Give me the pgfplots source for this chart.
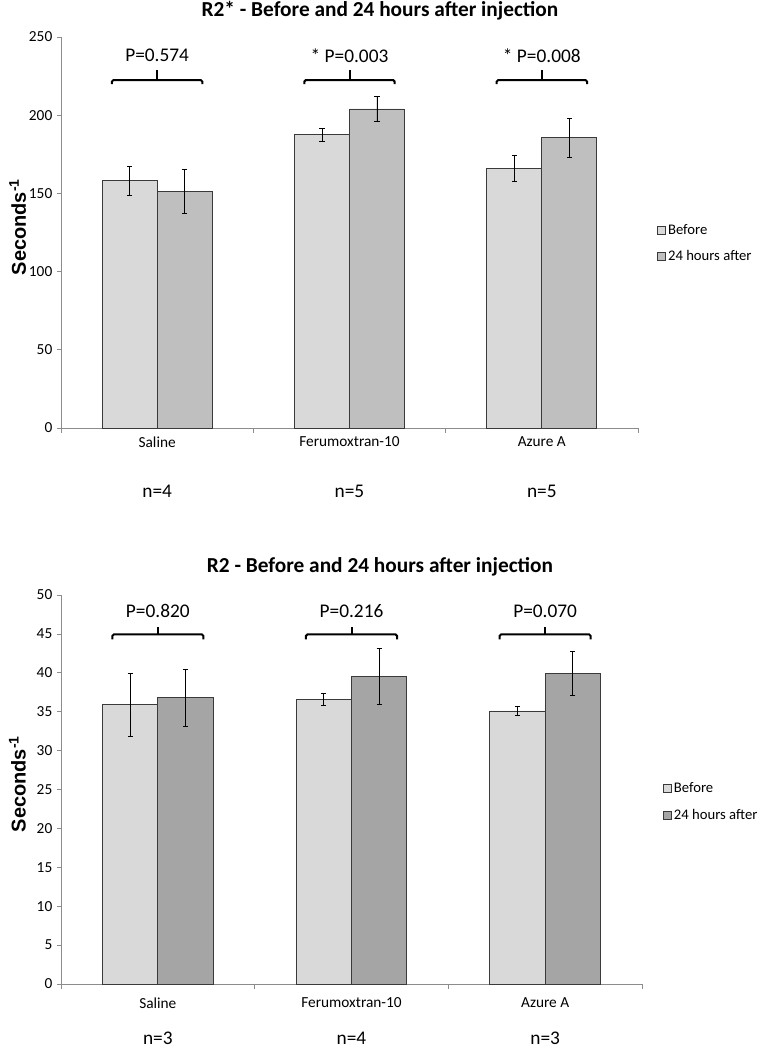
\documentclass[border=0pt]{standalone}
\usepackage{fontspec}
\setmainfont{Carlito}
\newfontfamily\arialfont{Liberation Sans}
\usepackage{pgfplots}
\pgfplotsset{compat=1.18}
\definecolor{cbefore}{HTML}{D9D9D9}
\definecolor{cafterA}{HTML}{BFBFBF}
\definecolor{cafterB}{HTML}{A5A5A5}
\definecolor{axgray}{HTML}{8C8C8C}
\definecolor{edge}{HTML}{3A3A3A}
\tikzset{
  br/.style={line width=1.5pt, rounded corners=1.2pt},
  plab/.style={font=\fontsize{14.5}{17}\selectfont},
}
\pgfplotsset{
  exstyle/.style={
    scale only axis,
    clip=false,
    axis x line*=bottom, axis y line*=left,
    axis line style={draw=axgray,-},
    xmin=-0.5, xmax=2.5,
    xtick={0,1,2},
    xticklabels={Saline,Ferumoxtran-10,Azure A},
    minor xtick={-0.5,0.5,1.5,2.5},
    major x tick style={draw=none},
    minor tick length=3.75pt,
    major tick length=3pt,
    tick style={draw=axgray, line width=0.5pt},
    tick align=outside,
    ticklabel style={font=\fontsize{11.5}{13}\selectfont},
    /pgf/number format/assume math mode=true,
    ybar, bar width=0.2857,
    ylabel={\fontsize{15}{18}\selectfont\arialfont\bfseries Seconds\textsuperscript{-1}},
    ylabel style={at={(axis description cs:-0.075,0.514)}, anchor=center},
    legend cell align=left,
    legend image code/.code={\draw[#1, draw=edge, line width=0.5pt] (0pt,-3pt) rectangle (6pt,3pt);},
    legend style={draw=none, fill=none, font=\fontsize{11}{13}\selectfont, row sep=7pt, inner sep=0pt},
    error bars/error bar style={black, line width=0.6pt},
    error bars/error mark options={black, line width=0.6pt, mark size=1.9pt, rotate=90},
  },
}
\begin{document}
\begin{tikzpicture}
\path[use as bounding box] (0,0) rectangle (570.75pt,787.5pt);
% titles
\node[font=\fontsize{16}{19}\selectfont\bfseries] at (285pt,779.5pt) {R2* - Before and 24 hours after injection};
\node[font=\fontsize{16}{19}\selectfont\bfseries] at (285pt,362.25pt) {R2 - Before and 24 hours after injection};
% ---------- top axis ----------
\begin{axis}[exstyle,
  at={(45.75pt,466.5pt)}, anchor=south west,
  width=432.75pt, height=293.25pt,
  ymin=0, ymax=250, ytick={0,50,100,150,200,250},
  legend style={at={(axis description cs:1.032,0.472)}, anchor=west},
]
\addplot[fill=cbefore, draw=edge, line width=0.6pt, bar shift=-0.14285,
  error bars/.cd, y dir=both, y explicit]
  coordinates {(0,158) +- (0,9.5) (1,187.5) +- (0,4.2) (2,166) +- (0,8.5)};
\addlegendentry{Before}
\addplot[fill=cafterA, draw=edge, line width=0.6pt, bar shift=0.14285,
  error bars/.cd, y dir=both, y explicit]
  coordinates {(0,151.5) +- (0,14) (1,204) +- (0,8.2) (2,185.5) +- (0,12.7)};
\addlegendentry{24 hours after}
% brackets
\draw[br] (axis cs:-0.235,219.8) -- (axis cs:-0.235,222.5) -- (axis cs:0.235,222.5) -- (axis cs:0.235,219.8);
\draw[line width=1.5pt] (axis cs:0,222.5) -- (axis cs:0,229);
\draw[br] (axis cs:0.765,219.8) -- (axis cs:0.765,222.5) -- (axis cs:1.235,222.5) -- (axis cs:1.235,219.8);
\draw[line width=1.5pt] (axis cs:1,222.5) -- (axis cs:1,229);
\draw[br] (axis cs:1.765,219.8) -- (axis cs:1.765,222.5) -- (axis cs:2.235,222.5) -- (axis cs:2.235,219.8);
\draw[line width=1.5pt] (axis cs:2,222.5) -- (axis cs:2,229);
\node[plab] at (axis cs:0,238) {P=0.574};
\node[plab] at (axis cs:1,238) {* P=0.003};
\node[plab] at (axis cs:2,238) {* P=0.008};
\node[plab] at (axis cs:0,0) [yshift=-47.25pt] {n=4};
\node[plab] at (axis cs:1,0) [yshift=-47.25pt] {n=5};
\node[plab] at (axis cs:2,0) [yshift=-47.25pt] {n=5};
\end{axis}
% ---------- bottom axis ----------
\begin{axis}[exstyle,
  at={(45.75pt,49.5pt)}, anchor=south west,
  width=435.75pt, height=291.75pt,
  ymin=0, ymax=50, ytick={0,5,...,50},
  xticklabel style={yshift=-4pt},
  legend style={at={(axis description cs:1.035,0.468)}, anchor=west},
]
\addplot[fill=cbefore, draw=edge, line width=0.6pt, bar shift=-0.14285,
  error bars/.cd, y dir=both, y explicit]
  coordinates {(0,35.9) +- (0,4.05) (1,36.6) +- (0,0.75) (2,35.1) +- (0,0.6)};
\addlegendentry{Before}
\addplot[fill=cafterB, draw=edge, line width=0.6pt, bar shift=0.14285,
  error bars/.cd, y dir=both, y explicit]
  coordinates {(0,36.8) +- (0,3.7) (1,39.5) +- (0,3.6) (2,39.9) +- (0,2.8)};
\addlegendentry{24 hours after}
\draw[br] (axis cs:-0.235,44.3) -- (axis cs:-0.235,44.95) -- (axis cs:0.235,44.95) -- (axis cs:0.235,44.3);
\draw[line width=1.5pt] (axis cs:0,44.95) -- (axis cs:0,45.95);
\draw[br] (axis cs:0.765,44.3) -- (axis cs:0.765,44.95) -- (axis cs:1.235,44.95) -- (axis cs:1.235,44.3);
\draw[line width=1.5pt] (axis cs:1,44.95) -- (axis cs:1,45.95);
\draw[br] (axis cs:1.765,44.3) -- (axis cs:1.765,44.95) -- (axis cs:2.235,44.95) -- (axis cs:2.235,44.3);
\draw[line width=1.5pt] (axis cs:2,44.95) -- (axis cs:2,45.95);
\node[plab] at (axis cs:0,47.9) {P=0.820};
\node[plab] at (axis cs:1,47.9) {P=0.216};
\node[plab] at (axis cs:2,47.9) {P=0.070};
\node[plab, inner sep=0pt] at (axis cs:0,0) [yshift=-40.5pt] {n=3};
\node[plab, inner sep=0pt] at (axis cs:1,0) [yshift=-40.5pt] {n=4};
\node[plab, inner sep=0pt] at (axis cs:2,0) [yshift=-40.5pt] {n=3};
\end{axis}
\end{tikzpicture}
\end{document}
